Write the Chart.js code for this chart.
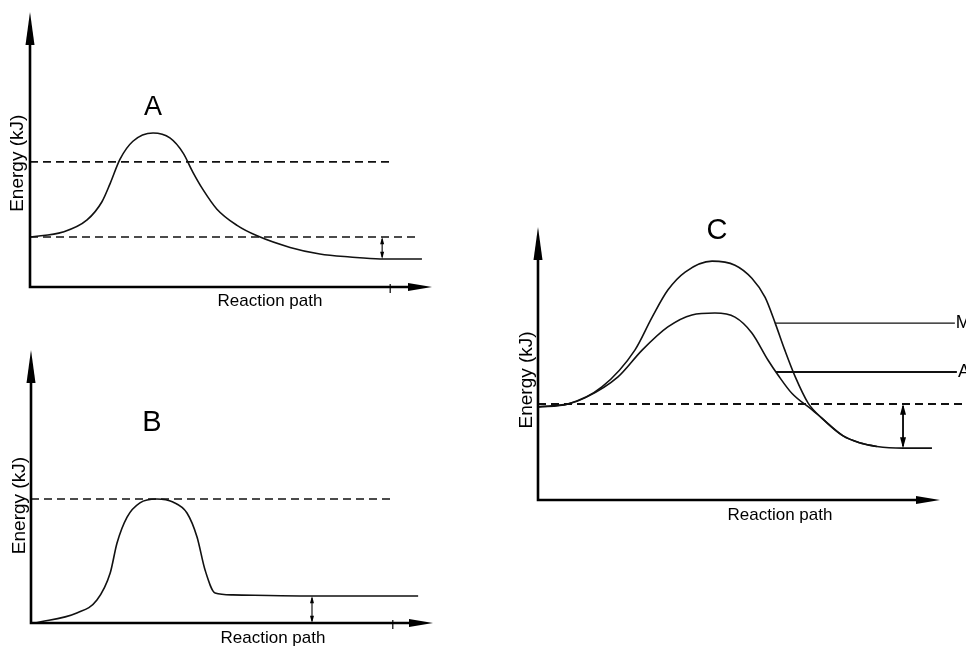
<!DOCTYPE html>
<html>
<head>
<meta charset="utf-8">
<script src="https://cdn.jsdelivr.net/npm/chart.js@4"></script>
<style>
  html, body { margin: 0; padding: 0; background: #fff; }
  body { width: 966px; height: 647px; position: relative; overflow: hidden; }
  canvas { position: absolute; }
</style>
</head>
<body>
<canvas id="chartA" width="480" height="320" style="left:0;top:0"></canvas>
<canvas id="chartB" width="480" height="327" style="left:0;top:320px"></canvas>
<canvas id="chartC" width="476" height="340" style="left:490px;top:200px"></canvas>
<script>
// reaction path runs 0..100 along the x arrow, energy 0..100 up the y arrow

// diagram A
const pathA   = [0, 8.2, 14.2, 17.9, 19.9, 22.4, 25.6, 30.6, 34.8, 38.1, 40.5, 43.0, 46.5, 51.5, 56.5, 64.7, 72.1, 79.6, 87.1, 97.5];
const energyA = [18.2, 20.0, 24.4, 31.0, 37.5, 46.5, 53.0, 56.0, 54.2, 48.7, 41.8, 35.5, 28.3, 22.4, 18.6, 14.4, 12.0, 10.9, 10.2, 10.2];
const levelsA = [45.5, 18.2];      // dashed reference levels
const levelEndsA = [89.6, 96.5];
const deltaA = [87.6, 18.2, 10.2]; // x, from, to
const tickA = 89.6;

// diagram B
const pathB   = [1, 11.4, 16.4, 19.7, 21.4, 23.9, 27.1, 31.3, 35.3, 38.8, 41.3, 43.3, 45.8, 50.2, 66.9, 96.3];
const energyB = [0, 3.7, 8.4, 18.3, 29.3, 38.8, 44.0, 45.4, 44.3, 40.3, 31.5, 19.4, 11.0, 10.3, 9.9, 9.9];
const levelsB = [45.4];
const levelEndsB = [89.8];
const deltaB = [69.9, 0, 9.9];
const tickB = 90;

// diagram C: two barrier curves
const pathCM   = [0, 7.5, 15.9, 24.1, 28.4, 32.3, 36.6, 43.3, 49.0, 53.2, 56.5, 59.0, 61.4, 64.0, 67.2, 70.6, 75.9, 80.0, 84.3, 90.8, 98.0];
const energyCM = [34.1, 35.2, 41.4, 54.9, 67.0, 76.9, 83.5, 87.5, 86.0, 81.2, 74.2, 64.8, 54.9, 45.1, 35.5, 30.0, 23.5, 21.0, 19.6, 19.0, 19.0];
const pathCA   = [0, 7.5, 11.7, 19.9, 25.9, 32.3, 38.3, 44.0, 49.0, 53.2, 57.2, 59.7, 63.2, 68.2, 70.6, 75.9, 80.0, 84.3];
const energyCA = [34.1, 35.2, 37.4, 45.1, 54.9, 63.4, 67.8, 68.5, 67.0, 61.2, 51.3, 45.8, 39.0, 33.0, 30.0, 23.5, 21.0, 19.6];
const levelsC = [35.2];
const levelEndsC = [106.5];
const peakLabelsC = ['M', 'A'];
const peakLevelsC = [64.8, 46.9];
const peakStartC = [59.0, 59.2];
const peakEndC = [103.7, 104.2];
const deltaC = [90.8, 35.2, 19.0];

const FONT = "'Liberation Sans', Arial, sans-serif";

function pts(xs, ys) {
  return xs.map((x, i) => ({ x: x, y: ys[i] }));
}

function curve(xs, ys) {
  return {
    data: pts(xs, ys),
    borderColor: '#111',
    borderWidth: 1.6,
    pointRadius: 0,
    cubicInterpolationMode: 'monotone',
    clip: false
  };
}

function flat(x0, x1, y, dashed, width) {
  return {
    data: [{ x: x0, y: y }, { x: x1, y: y }],
    borderColor: '#111',
    borderWidth: width || 1.6,
    borderDash: dashed ? [8, 5] : [],
    pointRadius: 0,
    clip: false
  };
}

function doubleArrow(ctx, x, y1, y2, head, w) {
  const dir = y2 > y1 ? 1 : -1;
  ctx.lineWidth = w;
  ctx.beginPath();
  ctx.moveTo(x, y1 + dir * 2);
  ctx.lineTo(x, y2 - dir * 2);
  ctx.stroke();
  [[y1, dir], [y2, -dir]].forEach(([yy, d]) => {
    ctx.beginPath();
    ctx.moveTo(x, yy);
    ctx.lineTo(x - head / 2, yy + d * head * 1.8);
    ctx.lineTo(x + head / 2, yy + d * head * 1.8);
    ctx.closePath();
    ctx.fill();
  });
}

const sketch = {
  id: 'sketch',
  afterDatasetsDraw(chart, args, o) {
    const { ctx, chartArea: a, scales: { x, y } } = chart;
    ctx.save();
    ctx.strokeStyle = '#000';
    ctx.fillStyle = '#000';

    // axes with arrow heads
    ctx.lineWidth = 2.6;
    ctx.beginPath();
    ctx.moveTo(a.left, a.top + 25);
    ctx.lineTo(a.left, a.bottom);
    ctx.lineTo(a.right - 18, a.bottom);
    ctx.stroke();
    ctx.beginPath();
    ctx.moveTo(a.left, a.top);
    ctx.lineTo(a.left - 4.5, a.top + 33);
    ctx.lineTo(a.left + 4.5, a.top + 33);
    ctx.closePath();
    ctx.fill();
    ctx.beginPath();
    ctx.moveTo(a.right, a.bottom);
    ctx.lineTo(a.right - 24, a.bottom - 4);
    ctx.lineTo(a.right - 24, a.bottom + 4);
    ctx.closePath();
    ctx.fill();

    if (o.tick != null) {
      const tx = x.getPixelForValue(o.tick);
      ctx.lineWidth = 1.2;
      ctx.beginPath();
      ctx.moveTo(tx, a.bottom - 3);
      ctx.lineTo(tx, a.bottom + 6);
      ctx.stroke();
    }

    // energy difference arrow
    doubleArrow(ctx, x.getPixelForValue(o.delta[0]), y.getPixelForValue(o.delta[1]),
      y.getPixelForValue(o.delta[2]), o.head, o.headLine);

    // texts
    ctx.textAlign = 'center';
    ctx.textBaseline = 'middle';
    ctx.font = o.titleSize + 'px ' + FONT;
    ctx.fillText(o.title, x.getPixelForValue(o.titleAt[0]), y.getPixelForValue(o.titleAt[1]));

    ctx.font = '17px ' + FONT;
    ctx.fillText('Reaction path', x.getPixelForValue(o.xLabelAt), a.bottom + o.xLabelGap);

    ctx.save();
    ctx.font = '19px ' + FONT;
    ctx.translate(a.left - o.yLabelGap, y.getPixelForValue(o.yLabelAt));
    ctx.rotate(-Math.PI / 2);
    ctx.fillText('Energy (kJ)', 0, 0);
    ctx.restore();

    if (o.sideLabels) {
      ctx.textAlign = 'left';
      ctx.font = '18px ' + FONT;
      o.sideLabels.forEach((t, i) => {
        ctx.fillText(t, x.getPixelForValue(o.sideEnds[i]) + 1, y.getPixelForValue(o.sideLevels[i]));
      });
    }
    ctx.restore();
  }
};

function makeChart(id, datasets, padding, opts) {
  return new Chart(document.getElementById(id), {
    type: 'line',
    data: { datasets: datasets },
    options: {
      responsive: false,
      animation: false,
      layout: { padding: padding },
      plugins: { legend: { display: false }, tooltip: { enabled: false }, sketch: opts },
      scales: {
        x: { type: 'linear', min: 0, max: 100, display: false },
        y: { min: 0, max: 100, display: false }
      }
    },
    plugins: [sketch]
  });
}

makeChart('chartA', [
  curve(pathA, energyA),
  ...levelsA.map((lv, i) => flat(0, levelEndsA[i], lv, true))
], { left: 30, top: 12, right: 48, bottom: 33 }, {
  title: 'A', titleSize: 27, titleAt: [30.6, 65.1],
  xLabelAt: 59.7, xLabelGap: 14, yLabelAt: 45, yLabelGap: 12,
  delta: deltaA, head: 4, headLine: 1.1, tick: tickA
});

makeChart('chartB', [
  curve(pathB, energyB),
  ...levelsB.map((lv, i) => flat(0, levelEndsB[i], lv, true))
], { left: 31, top: 30, right: 47, bottom: 24 }, {
  title: 'B', titleSize: 29, titleAt: [30.1, 73.3],
  xLabelAt: 60.2, xLabelGap: 15, yLabelAt: 43, yLabelGap: 11,
  delta: deltaB, head: 4, headLine: 1.1, tick: tickB
});

makeChart('chartC', [
  curve(pathCM, energyCM),
  curve(pathCA, energyCA),
  ...levelsC.map((lv, i) => flat(0, levelEndsC[i], lv, true, 2)),
  ...peakLevelsC.map((lv, i) => flat(peakStartC[i], peakEndC[i], lv, false, i === 0 ? 1.3 : 2))
], { left: 48, top: 27, right: 26, bottom: 40 }, {
  title: 'C', titleSize: 29, titleAt: [44.5, 98.5],
  xLabelAt: 60.2, xLabelGap: 15, yLabelAt: 44, yLabelGap: 11,
  delta: deltaC, head: 6, headLine: 1.8,
  sideLabels: peakLabelsC, sideLevels: peakLevelsC, sideEnds: peakEndC
});
</script>
</body>
</html>
